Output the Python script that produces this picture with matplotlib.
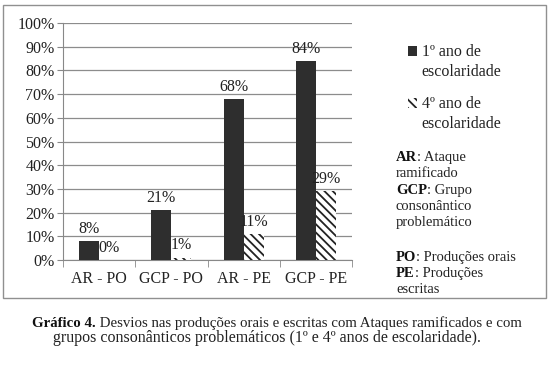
import numpy as np
import matplotlib
matplotlib.use("Agg")
import matplotlib.pyplot as plt
from matplotlib.patches import Rectangle
from matplotlib.legend_handler import HandlerPatch

plt.rcParams['font.family'] = ['Liberation Serif', 'DejaVu Serif']
plt.rcParams['hatch.linewidth'] = 1.3

## data
categorias = ['AR - PO', 'GCP - PO', 'AR - PE', 'GCP - PE']
ano1 = [8, 21, 68, 84]
ano4 = [0, 1, 11, 29]
serie_nomes = ['1º ano de\nescolaridade', '4º ano de\nescolaridade']
y_ticks = [0, 10, 20, 30, 40, 50, 60, 70, 80, 90, 100]

W, H = 556, 367
fig = plt.figure(figsize=(W / 100, H / 100), dpi=100)

# gray frame around the chart
fig.patches.append(Rectangle((3 / W, 1 - 298 / H), 543 / W, 293 / H,
                             transform=fig.transFigure, fill=False,
                             edgecolor='#909090', linewidth=1.0))

ax = fig.add_axes([63 / W, 1 - 260 / H, 289 / W, 237 / H])

x = np.arange(len(categorias))
bw = 0.277
b1 = ax.bar(x - bw / 2, ano1, bw, color='#2e2e2e', linewidth=0, zorder=3)
b2 = ax.bar(x + bw / 2, ano4, bw, color='white', edgecolor='#222222',
            hatch='\\\\\\\\', linewidth=0, zorder=3)

for bars, vals in ((b1, ano1), (b2, ano4)):
    for rect, v in zip(bars, vals):
        ax.annotate('%d%%' % v, (rect.get_x() + rect.get_width() / 2, v),
                    xytext=(0, 3), textcoords='offset points',
                    ha='center', va='bottom', fontsize=11.5, color='#222222')

ax.set_xlim(-0.5, len(categorias) - 0.5)
ax.set_ylim(0, 100)
ax.set_yticks(y_ticks)
ax.set_yticklabels(['%d%%' % t for t in y_ticks], fontsize=11.5, color='#222222')
ax.set_xticks(x)
ax.set_xticklabels(categorias, fontsize=11.5, color='#222222')
ax.tick_params(axis='x', length=0, pad=8)
ax.set_xticks(np.arange(len(categorias) + 1) - 0.5, minor=True)
ax.tick_params(axis='x', which='minor', length=5, color='#888888', direction='out')
ax.tick_params(axis='y', length=4, color='#888888', direction='out', pad=2)
ax.yaxis.grid(True, color='#8c8c8c', linewidth=0.9, zorder=0)
ax.set_axisbelow(True)
for s in ['top', 'right']:
    ax.spines[s].set_visible(False)
for s in ['left', 'bottom']:
    ax.spines[s].set_color('#888888')


def top_square(legend, orig_handle, xdescent, ydescent, width, height, fontsize):
    # put the key next to the first line of a two-line label
    return Rectangle((-xdescent, -ydescent + 0.72 * fontsize), width, height)


leg = fig.legend([b1[0], b2[0]], serie_nomes, loc='upper left',
                 bbox_to_anchor=(400 / W, 1 - 36 / H), frameon=False,
                 fontsize=11.5, handlelength=0.55, handleheight=0.55,
                 handletextpad=0.3, labelspacing=1.0, borderpad=0,
                 handler_map={Rectangle: HandlerPatch(patch_func=top_square)})
for t in leg.get_texts():
    t.set_color('#222222')
    t.set_linespacing(1.35)

# glossary
glossario = [('AR', ': Ataque', ['ramificado']),
             ('GCP', ': Grupo', ['consonântico', 'problemático']),
             (None, None, []),
             ('PO', ': Produções orais', []),
             ('PE', ': Produções', ['escritas'])]
gx = 396 / W
y = 161
for bold, rest, extra in glossario:
    if bold is None:
        y += 18
        continue
    t = fig.text(gx, 1 - y / H, bold, fontsize=10.5, fontweight='bold',
                 va='baseline', color='#111111')
    ax.annotate(rest, xy=(1, 0), xycoords=t, va='bottom', ha='left',
                fontsize=10.5, color='#222222', annotation_clip=False)
    y += 16.3
    for linha in extra:
        fig.text(gx, 1 - y / H, linha, fontsize=10.5, va='baseline', color='#222222')
        y += 16.3

# caption
cap1 = fig.text(32 / W, 1 - 327 / H, 'Gráfico 4.', fontsize=10.7, fontweight='bold',
                va='baseline', color='#111111')
ax.annotate(' Desvios nas produções orais e escritas com Ataques ramificados e com',
            xy=(1, 0), xycoords=cap1, va='bottom', fontsize=10.7, color='#222222',
            annotation_clip=False)
fig.text(267 / W, 1 - 342 / H,
         'grupos consonânticos problemáticos (1º e 4º anos de escolaridade).',
         fontsize=11.5, ha='center', va='baseline', color='#222222')

fig.savefig('out.png', dpi=100, facecolor='white')
